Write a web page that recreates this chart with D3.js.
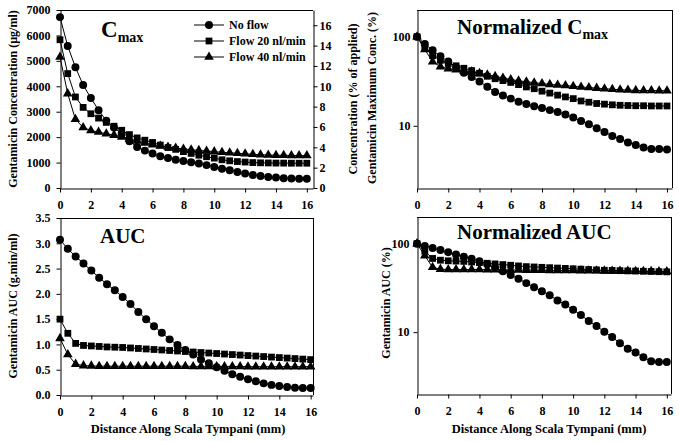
<!DOCTYPE html>
<html><head><meta charset="utf-8">
<script src="https://cdn.jsdelivr.net/npm/d3@7"></script>
<style>
body{margin:0;background:#fff}
svg{display:block;background:#fff}
text{font-family:"Liberation Serif","Times New Roman",serif;font-weight:bold;fill:#000}
</style></head><body>
<svg id="c" width="679" height="441"></svg>
<script>
// ---------- data ----------
const distance = [0,0.5,1,1.5,2,2.5,3,3.5,4,4.5,5,5.5,6,6.5,7,7.5,8,8.5,9,9.5,10,10.5,11,11.5,12,12.5,13,13.5,14,14.5,15,15.5,16];
const seriesNames = ["No flow","Flow 20 nl/min","Flow 40 nl/min"];
const markerTypes = ["circle","square","triangle"];

// Cmax (ug/ml)
const cmaxNoFlow = [6720,5580,4750,4050,3540,3060,2650,2380,2120,1840,1615,1470,1355,1250,1180,1115,1060,1010,960,900,830,760,700,630,570,515,475,435,410,385,372,368,365];
const cmaxFlow20 = [5830,4500,3580,3170,2920,2750,2580,2430,2270,2100,1970,1880,1790,1690,1590,1520,1430,1360,1290,1230,1175,1110,1070,1040,1020,1000,990,985,980,978,975,975,975];
const cmaxFlow40 = [5150,3710,2700,2380,2260,2200,2130,2080,2010,1930,1850,1775,1705,1650,1610,1570,1535,1505,1480,1455,1430,1405,1385,1365,1345,1325,1310,1300,1290,1285,1280,1275,1275];

// Normalized Cmax (%)
const normCmaxNoFlow = [100,83.0,70.7,60.3,52.7,45.5,39.4,35.4,31.5,27.4,24.0,21.9,20.2,18.6,17.6,16.6,15.8,15.0,14.3,13.4,12.4,11.3,10.4,9.4,8.5,7.7,7.1,6.5,6.1,5.7,5.5,5.5,5.4];
const normCmaxFlow20 = [100,77.2,61.4,54.4,50.1,47.2,44.3,41.7,38.9,36.0,33.8,32.2,30.7,29.0,27.3,26.1,24.5,23.3,22.1,21.1,20.2,19.0,18.4,17.8,17.5,17.2,17.0,16.9,16.8,16.8,16.7,16.7,16.7];
const normCmaxFlow40 = [100,72.0,52.4,46.2,43.9,42.7,41.4,40.4,39.0,37.5,35.9,34.5,33.1,32.0,31.3,30.5,29.8,29.2,28.7,28.3,27.8,27.3,26.9,26.5,26.1,25.7,25.4,25.2,25.0,24.9,24.9,24.8,24.8];

// AUC (g.min/ml)
const aucNoFlow = [3.07,2.89,2.74,2.60,2.46,2.32,2.19,2.07,1.94,1.80,1.64,1.50,1.36,1.23,1.10,0.99,0.89,0.80,0.70,0.63,0.55,0.48,0.41,0.36,0.31,0.27,0.23,0.20,0.18,0.16,0.145,0.14,0.14];
const aucFlow20 = [1.50,1.22,1.02,0.98,0.97,0.96,0.95,0.945,0.94,0.93,0.92,0.91,0.90,0.89,0.88,0.87,0.86,0.85,0.84,0.83,0.82,0.81,0.80,0.79,0.78,0.77,0.76,0.75,0.74,0.73,0.72,0.71,0.70];
const aucFlow40 = [1.12,0.80,0.61,0.58,0.575,0.57,0.57,0.57,0.57,0.57,0.57,0.57,0.57,0.57,0.57,0.57,0.57,0.565,0.565,0.565,0.565,0.565,0.565,0.565,0.56,0.56,0.56,0.56,0.56,0.56,0.56,0.56,0.56];

// Normalized AUC (%)
const normAucNoFlow = [100,94.1,89.3,84.7,80.1,75.6,71.3,67.4,63.2,58.6,53.4,48.9,44.3,40.1,35.8,32.2,29.0,26.1,22.8,20.5,17.9,15.6,13.4,11.7,10.1,8.8,7.5,6.5,5.9,5.2,4.7,4.6,4.6];
const normAucFlow20 = [100,82,68,65,64,63.5,63,62,61,60,59,58,57,56,55,54.5,54,53.5,53,52.5,52,51.5,51,50.5,50,49.8,49.5,49.2,49,48.7,48.5,48.2,48];
const normAucFlow40 = [100,73,54,51.5,51,51,51,51,51,50.8,50.6,50.5,50.4,50.3,50.2,50.1,50,49.9,49.8,49.7,49.6,49.5,49.4,49.3,49.2,49.1,49,48.9,48.8,48.7,48.6,48.5,48.4];

// tick values
const xTicks = [0,2,4,6,8,10,12,14,16];
const cmaxTicks = [0,1000,2000,3000,4000,5000,6000,7000];
const pctTicks = [0,2,4,6,8,10,12,14,16];
const aucTicks = [0,0.5,1.0,1.5,2.0,2.5,3.0,3.5];
const logTicks = [10,100];

// ---------- drawing ----------
const svg = d3.select("#c");
const FONT = 12;

function symbolFor(t){
  if (t==="circle") return d3.symbol().type(d3.symbolCircle).size(50)();
  if (t==="square") return d3.symbol().type(d3.symbolSquare).size(46)();
  return d3.symbol().type(d3.symbolTriangle).size(40)();
}

function styleAxis(g){
  g.selectAll("path,line").attr("stroke","#000").attr("stroke-width",1);
  g.selectAll("text").attr("font-size",FONT).attr("font-family",'"Liberation Serif",serif').attr("font-weight","bold").attr("fill","#000");
}

function panel(cfg){
  const g = svg.append("g");
  const x = d3.scaleLinear().domain(cfg.xDomain).range([cfg.left,cfg.right]);
  const y = (cfg.log ? d3.scaleLog() : d3.scaleLinear()).domain(cfg.yDomain).range([cfg.bottom,cfg.top]);
  // frame
  g.append("line").attr("x1",cfg.left).attr("x2",cfg.right).attr("y1",cfg.top+0.5).attr("y2",cfg.top+0.5).attr("stroke","#000");
  if(!cfg.rightAxis) g.append("line").attr("x1",cfg.right+0.5).attr("x2",cfg.right+0.5).attr("y1",cfg.top).attr("y2",cfg.bottom).attr("stroke","#000");
  // axes
  const ax = g.append("g").attr("transform",`translate(0,${cfg.bottom+0.5})`)
    .call(d3.axisBottom(x).tickValues(xTicks).tickFormat(d3.format("d")).tickSize(4).tickSizeOuter(0).tickPadding(cfg.xPad));
  styleAxis(ax);
  const ay = g.append("g").attr("transform",`translate(${cfg.left+0.5},0)`)
    .call(d3.axisLeft(y).tickValues(cfg.yTicks).tickFormat(cfg.yFormat).tickSize(4).tickSizeOuter(0).tickPadding(cfg.yPad));
  styleAxis(ay);
  if(cfg.rightAxis){
    const y2 = d3.scaleLinear().domain(cfg.rightAxis.domain).range([cfg.bottom,cfg.top]);
    const ar = g.append("g").attr("transform",`translate(${cfg.right+0.5},0)`)
      .call(d3.axisRight(y2).tickValues(cfg.rightAxis.ticks).tickFormat(d3.format("d")).tickSize(4).tickSizeOuter(0).tickPadding(2));
    styleAxis(ar);
    g.append("text").attr("transform",`translate(${cfg.rightAxis.titleX},${(cfg.top+cfg.bottom)/2}) rotate(-90)`)
      .attr("text-anchor","middle").attr("dominant-baseline","central").attr("font-size",12).text(cfg.rightAxis.title);
  }
  // y title
  g.append("text").attr("transform",`translate(${cfg.yTitleX},${cfg.yTitleY}) rotate(-90)`)
    .attr("text-anchor","middle").attr("dominant-baseline","central").attr("font-size",12).text(cfg.yTitle);
  // x title
  if(cfg.xTitle){
    g.append("text").attr("x",cfg.xTitleX).attr("y",cfg.xTitleY).attr("text-anchor","middle")
      .attr("font-size",12.5).text(cfg.xTitle);
  }
  // panel title
  const t = g.append("text").attr("x",cfg.titleX).attr("y",cfg.titleY).attr("font-size",cfg.titleSize);
  t.append("tspan").text(cfg.title);
  if(cfg.titleSub) t.append("tspan").attr("font-size",14).attr("dy",5).text(cfg.titleSub);
  // series
  const line = d3.line().x((d,i)=>x(distance[i])).y(d=>y(d));
  cfg.series.forEach((vals,k)=>{
    g.append("path").datum(vals).attr("d",line).attr("fill","none").attr("stroke","#000").attr("stroke-width",1);
    g.selectAll(null).data(vals).enter().append("path")
      .attr("d",symbolFor(markerTypes[k]))
      .attr("transform",(d,i)=>`translate(${x(distance[i])},${y(d)})`)
      .attr("fill","#000");
  });
  return g;
}

// Panel 1: Cmax
panel({left:60,right:313,top:10,bottom:188,xDomain:[0,16.4],yDomain:[0,7000],
  yTicks:cmaxTicks,yFormat:d3.format("d"),xPad:8,yPad:6,
  yTitle:"Gentamicin Concentration (\u00b5g/ml)",yTitleX:13,yTitleY:99,
  rightAxis:{domain:[0,17.5],ticks:pctTicks,title:"Concentration (% of applied)",titleX:353},
  title:"C",titleSub:"max",titleX:101,titleY:37,titleSize:23,
  series:[cmaxNoFlow,cmaxFlow20,cmaxFlow40]});

// legend
const leg = svg.append("g");
seriesNames.forEach((nm,k)=>{
  const yy = 25 + k*16;
  leg.append("line").attr("x1",194).attr("x2",224).attr("y1",yy).attr("y2",yy).attr("stroke","#000");
  leg.append("path").attr("d",symbolFor(markerTypes[k])).attr("transform",`translate(209,${yy})`).attr("fill","#000");
  leg.append("text").attr("x",229).attr("y",yy).attr("dominant-baseline","central").attr("font-size",12).text(nm);
});

// Panel 2: Normalized Cmax
panel({left:417,right:672,top:10,bottom:188,xDomain:[0,16.32],yDomain:[2,200],log:true,
  yTicks:logTicks,yFormat:d3.format("d"),xPad:8,yPad:3,
  yTitle:"Gentamicin Maximum Conc. (%)",yTitleX:372,yTitleY:98,
  title:"Normalized C",titleSub:"max",titleX:457,titleY:34,titleSize:21,
  series:[normCmaxNoFlow,normCmaxFlow20,normCmaxFlow40]});

// Panel 3: AUC
panel({left:60,right:313,top:218,bottom:395,xDomain:[0,16.15],yDomain:[0,3.5],
  yTicks:aucTicks,yFormat:d3.format(".1f"),xPad:8,yPad:6,
  yTitle:"Gentamicin AUC (g.min/ml)",yTitleX:13,yTitleY:306,
  xTitle:"Distance Along Scala Tympani (mm)",xTitleX:188,xTitleY:433,
  title:"AUC",titleX:100,titleY:243,titleSize:21,
  series:[aucNoFlow,aucFlow20,aucFlow40]});

// Panel 4: Normalized AUC
panel({left:417,right:671,top:217,bottom:394,xDomain:[0,16.27],yDomain:[2,200],log:true,
  yTicks:logTicks,yFormat:d3.format("d"),xPad:8,yPad:4,
  yTitle:"Gentamicin AUC (%)",yTitleX:386,yTitleY:303,
  xTitle:"Distance Along Scala Tympani (mm)",xTitleX:549,xTitleY:433,
  title:"Normalized AUC",titleX:457,titleY:239,titleSize:21,
  series:[normAucNoFlow,normAucFlow20,normAucFlow40]});
</script>
</body></html>
